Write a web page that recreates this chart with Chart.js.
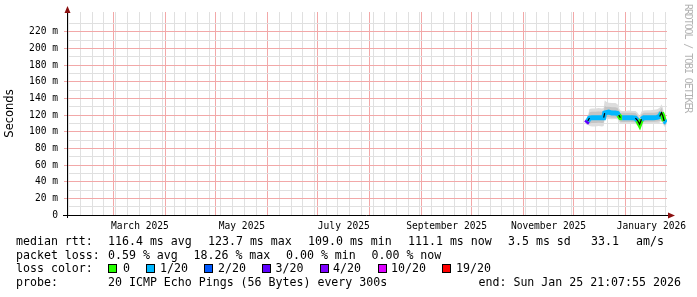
<!DOCTYPE html>
<html>
<head>
<meta charset="utf-8">
<script src="https://cdn.jsdelivr.net/npm/chart.js@4/dist/chart.umd.min.js"></script>
<style>
  body { margin: 0; background: #fff; }
  #marco { position: relative; width: 697px; height: 297px; overflow: hidden; font-family: 'DejaVu Sans Mono', monospace; }
  #grafico { position: absolute; left: 0; top: 0; }
  .t { position: absolute; font-size: 11.6px; line-height: 14px; white-space: pre; color: #000; }
  .caja { position: absolute; width: 7px; height: 7px; border: 1px solid #000; }
  #marca { position: absolute; left: 693px; top: 4px; transform-origin: 0 0; transform: rotate(90deg);
           font-size: 10px; line-height: 10px; letter-spacing: -1.1px; white-space: pre; color: #b4b4b4; }
</style>
</head>
<body>
<div id="marco">
  <canvas id="grafico" width="697" height="297"></canvas>
  <div id="marca">RRDTOOL / TOBI OETIKER</div>
  <div id="leyenda"></div>
</div>
<script>
// dias contados desde el 1 de febrero de 2025
const dias = [310.5, 311.5, 312.5, 314, 316, 318, 320, 321,
  321.6, 322.5, 324, 326, 328, 329.3,
  330, 331,
  332, 334, 336, 338, 340,
  341.3, 342.5, 343.6,
  345, 347, 349, 351, 353,
  354.5, 355.6, 356.4, 357.2, 358.5];
const mediana = [110.5, 113, 116.5, 117, 117, 117, 117, 117,
  122.5, 123, 123.7, 122.5, 122.5, 122,
  120, 117,
  116.8, 116.8, 116.8, 116.8, 116.5,
  113.5, 109.0, 115,
  116.8, 117, 117, 117, 117.3,
  118.5, 123, 119, 113, 111.1];
const perdida = [3, 1, 1, 1, 1, 1, 1, 1,
  1, 1, 1, 1, 1, 1,
  0, 0,
  1, 1, 1, 1, 1,
  0, 0, 1,
  1, 1, 1, 1, 1,
  1, 0, 0, 1, 1];
const humoMin = [108.5, 108.5, 107, 106.5, 106.5, 107, 106.5, 107,
  115, 115.5, 115.5, 115, 115.5, 115,
  113, 109.5,
  109.5, 109.5, 109.5, 109.5, 109.5,
  108, 106, 108.5,
  109.5, 109.5, 110, 110, 110,
  111, 114, 110, 106.5, 106];
const humoBajo = [109.5, 110, 110, 110.5, 110.5, 111, 110.5, 111,
  117, 117.5, 117.5, 117, 117, 117,
  115.5, 112,
  111.8, 111.8, 111.8, 111.8, 111.5,
  110, 107.5, 111,
  111.8, 112, 112, 112, 112.3,
  113, 116.5, 112.5, 108.5, 108];
const humoAlto = [112, 117, 123.5, 124, 124, 124.5, 124, 124,
  131, 130, 130, 129.5, 129.5, 128.5,
  126, 122.5,
  122.8, 122.8, 122.8, 122.8, 122.5,
  120, 115, 121,
  123, 123, 123, 123, 123.5,
  125, 129, 125, 118.5, 116];
const humoMax = [113.5, 119, 127.5, 128, 128, 128.5, 128, 128.5,
  138, 136, 135, 134.5, 134.5, 133,
  129, 125.5,
  125, 125, 125.5, 125, 125,
  123, 119, 124.5,
  125.5, 126, 126, 126.5, 127,
  129, 133, 129, 121.5, 118];

const diaMin = -0.12, diaMax = 358.88;
const semanas = [];
for (let d = 1; d <= diaMax; d += 7) semanas.push(d);
const inicioMes = [28, 59, 89, 120, 150, 181, 212, 242, 273, 303, 334];
const mediosMes = [43.5, 104.5, 165.5, 227, 288, 349.5];
const etiquetasMes = ['March 2025', 'May 2025', 'July 2025', 'September 2025', 'November 2025', 'January 2026'];
const marcasY = [];
for (let v = 0; v <= 230; v += 10) marcasY.push(v);

const colorPerdida = { 0: '#26ff00', 1: '#00b8ff', 2: '#0059ff', 3: '#5e00ff', 4: '#7e00ff', 10: '#dd00ff', 19: '#ff0000' };
const rojo = 'rgb(242,168,168)';
const gris = 'rgb(224,224,224)';
const nada = 'rgba(0,0,0,0)';

const puntos = serie => dias.map((d, i) => ({ x: d, y: serie[i] }));

const ejes = {
  id: 'ejes',
  afterDraw(chart) {
    const { ctx, chartArea: a } = chart;
    ctx.save();
    ctx.strokeStyle = '#000';
    ctx.lineWidth = 1;
    ctx.beginPath();
    ctx.moveTo(a.left - 4, a.bottom + 0.5);
    ctx.lineTo(a.right + 3, a.bottom + 0.5);
    ctx.moveTo(a.left + 0.5, a.bottom + 3);
    ctx.lineTo(a.left + 0.5, a.top - 2);
    ctx.stroke();
    ctx.fillStyle = '#8b1010';
    ctx.beginPath();
    ctx.moveTo(a.left + 0.5, a.top - 6);
    ctx.lineTo(a.left - 2.5, a.top + 1);
    ctx.lineTo(a.left + 3.5, a.top + 1);
    ctx.closePath();
    ctx.fill();
    ctx.beginPath();
    ctx.moveTo(a.right + 8, a.bottom + 0.5);
    ctx.lineTo(a.right + 1, a.bottom - 2.5);
    ctx.lineTo(a.right + 1, a.bottom + 3.5);
    ctx.closePath();
    ctx.fill();
    ctx.restore();
  }
};

// eje oculto solo para la rejilla vertical
const ejeRejilla = (marcas, color) => ({
  type: 'linear', position: 'bottom', min: diaMin, max: diaMax,
  afterBuildTicks: s => { s.ticks = marcas.map(v => ({ value: v })); },
  afterFit: s => { s.height = 0; },
  ticks: { display: false, autoSkip: false },
  grid: { drawTicks: false, color: color, lineWidth: 1 },
  border: { display: false }
});

new Chart(document.getElementById('grafico'), {
  type: 'line',
  data: {
    datasets: [
      { data: puntos(humoMin), borderWidth: 0, borderColor: nada, backgroundColor: nada, pointRadius: 0, fill: false, order: 6 },
      { data: puntos(humoMax), borderWidth: 0, borderColor: nada, pointRadius: 0, fill: 0, backgroundColor: '#dddddd', order: 5 },
      { data: puntos(humoBajo), borderWidth: 0, borderColor: nada, backgroundColor: nada, pointRadius: 0, fill: false, order: 4 },
      { data: puntos(humoAlto), borderWidth: 0, borderColor: nada, pointRadius: 0, fill: 2, backgroundColor: '#c4c4c4', order: 3 },
      { data: puntos(mediana), borderWidth: 5, pointRadius: 0, fill: false, order: 2,
        borderColor: colorPerdida[1], borderCapStyle: 'butt',
        segment: { borderColor: c => colorPerdida[perdida[c.p0DataIndex]] } },
      { data: puntos(mediana), borderWidth: 1.2, pointRadius: 0, fill: false, order: 1, borderColor: nada,
        segment: { borderColor: c => Math.abs(c.p1.parsed.y - c.p0.parsed.y) > 2.5 ? '#000' : nada } }
    ]
  },
  options: {
    responsive: false,
    animation: false,
    events: [],
    layout: { padding: { top: 12, right: 30, left: 0, bottom: 0 } },
    plugins: { legend: { display: false }, tooltip: { enabled: false } },
    scales: {
      x: ejeRejilla(semanas, gris),
      xm: ejeRejilla(inicioMes, rojo),
      xl: {
        type: 'linear', position: 'bottom', min: diaMin, max: diaMax,
        afterBuildTicks: s => { s.ticks = mediosMes.map(v => ({ value: v })); },
        afterFit: s => { s.height = 82; },
        ticks: {
          autoSkip: false, maxRotation: 0, padding: 6, color: '#000',
          font: { family: "'DejaVu Sans Mono'", size: 9.6 },
          callback: (v, i) => etiquetasMes[i]
        },
        grid: { display: false, drawTicks: false },
        border: { display: false }
      },
      y: {
        min: 0, max: 244,
        afterBuildTicks: s => { s.ticks = marcasY.map(v => ({ value: v })); },
        afterFit: s => { s.width = 67; },
        ticks: {
          autoSkip: false, padding: 6, color: '#000',
          font: { family: "'DejaVu Sans Mono'", size: 9.6 },
          callback: v => v % 20 === 0 ? (v === 0 ? '0' : v + ' m') : ''
        },
        grid: {
          drawTicks: true, tickLength: 3,
          color: c => (c.tick && c.tick.value % 20 === 0) ? rojo : gris,
          tickColor: c => (c.tick && c.tick.value % 20 === 0) ? rojo : nada
        },
        border: { display: false },
        title: { display: true, text: 'Seconds', color: '#000', padding: { top: 3, bottom: 0 },
                 font: { family: "'DejaVu Sans'", size: 11.5 } }
      }
    }
  },
  plugins: [ejes]
});

// leyenda de texto debajo del grafico
const filas = [
  [[16, 'median rtt:'], [108, '116.4 ms avg'], [208, '123.7 ms max'], [308, '109.0 ms min'],
   [408, '111.1 ms now'], [508, '3.5 ms sd'], [591, '33.1'], [636, 'am/s']],
  [[16, 'packet loss:'], [108, '0.59 % avg'], [193.5, '18.26 % max'], [286, '0.00 % min'], [371.5, '0.00 % now']],
  [[16, 'loss color:'], [123, '0'], [160, '1/20'], [218, '2/20'], [275.5, '3/20'], [333, '4/20'], [391, '10/20'], [456, '19/20']],
  [[16, 'probe:'], [108, '20 ICMP Echo Pings (56 Bytes) every 300s'], [478.5, 'end: Sun Jan 25 21:07:55 2026']]
];
const cajas = [[108, 0], [146, 1], [204, 2], [262, 3], [320, 4], [378, 10], [442, 19]];
const topes = [233.5, 247.5, 261, 275];
const leyenda = document.getElementById('leyenda');
filas.forEach((fila, f) => {
  fila.forEach(([x, txt]) => {
    const el = document.createElement('div');
    el.className = 't';
    el.style.left = x + 'px';
    el.style.top = topes[f] + 'px';
    el.textContent = txt;
    leyenda.appendChild(el);
  });
});
cajas.forEach(([x, k]) => {
  const el = document.createElement('div');
  el.className = 'caja';
  el.style.left = x + 'px';
  el.style.top = '264px';
  el.style.background = colorPerdida[k];
  leyenda.appendChild(el);
});
</script>
</body>
</html>
